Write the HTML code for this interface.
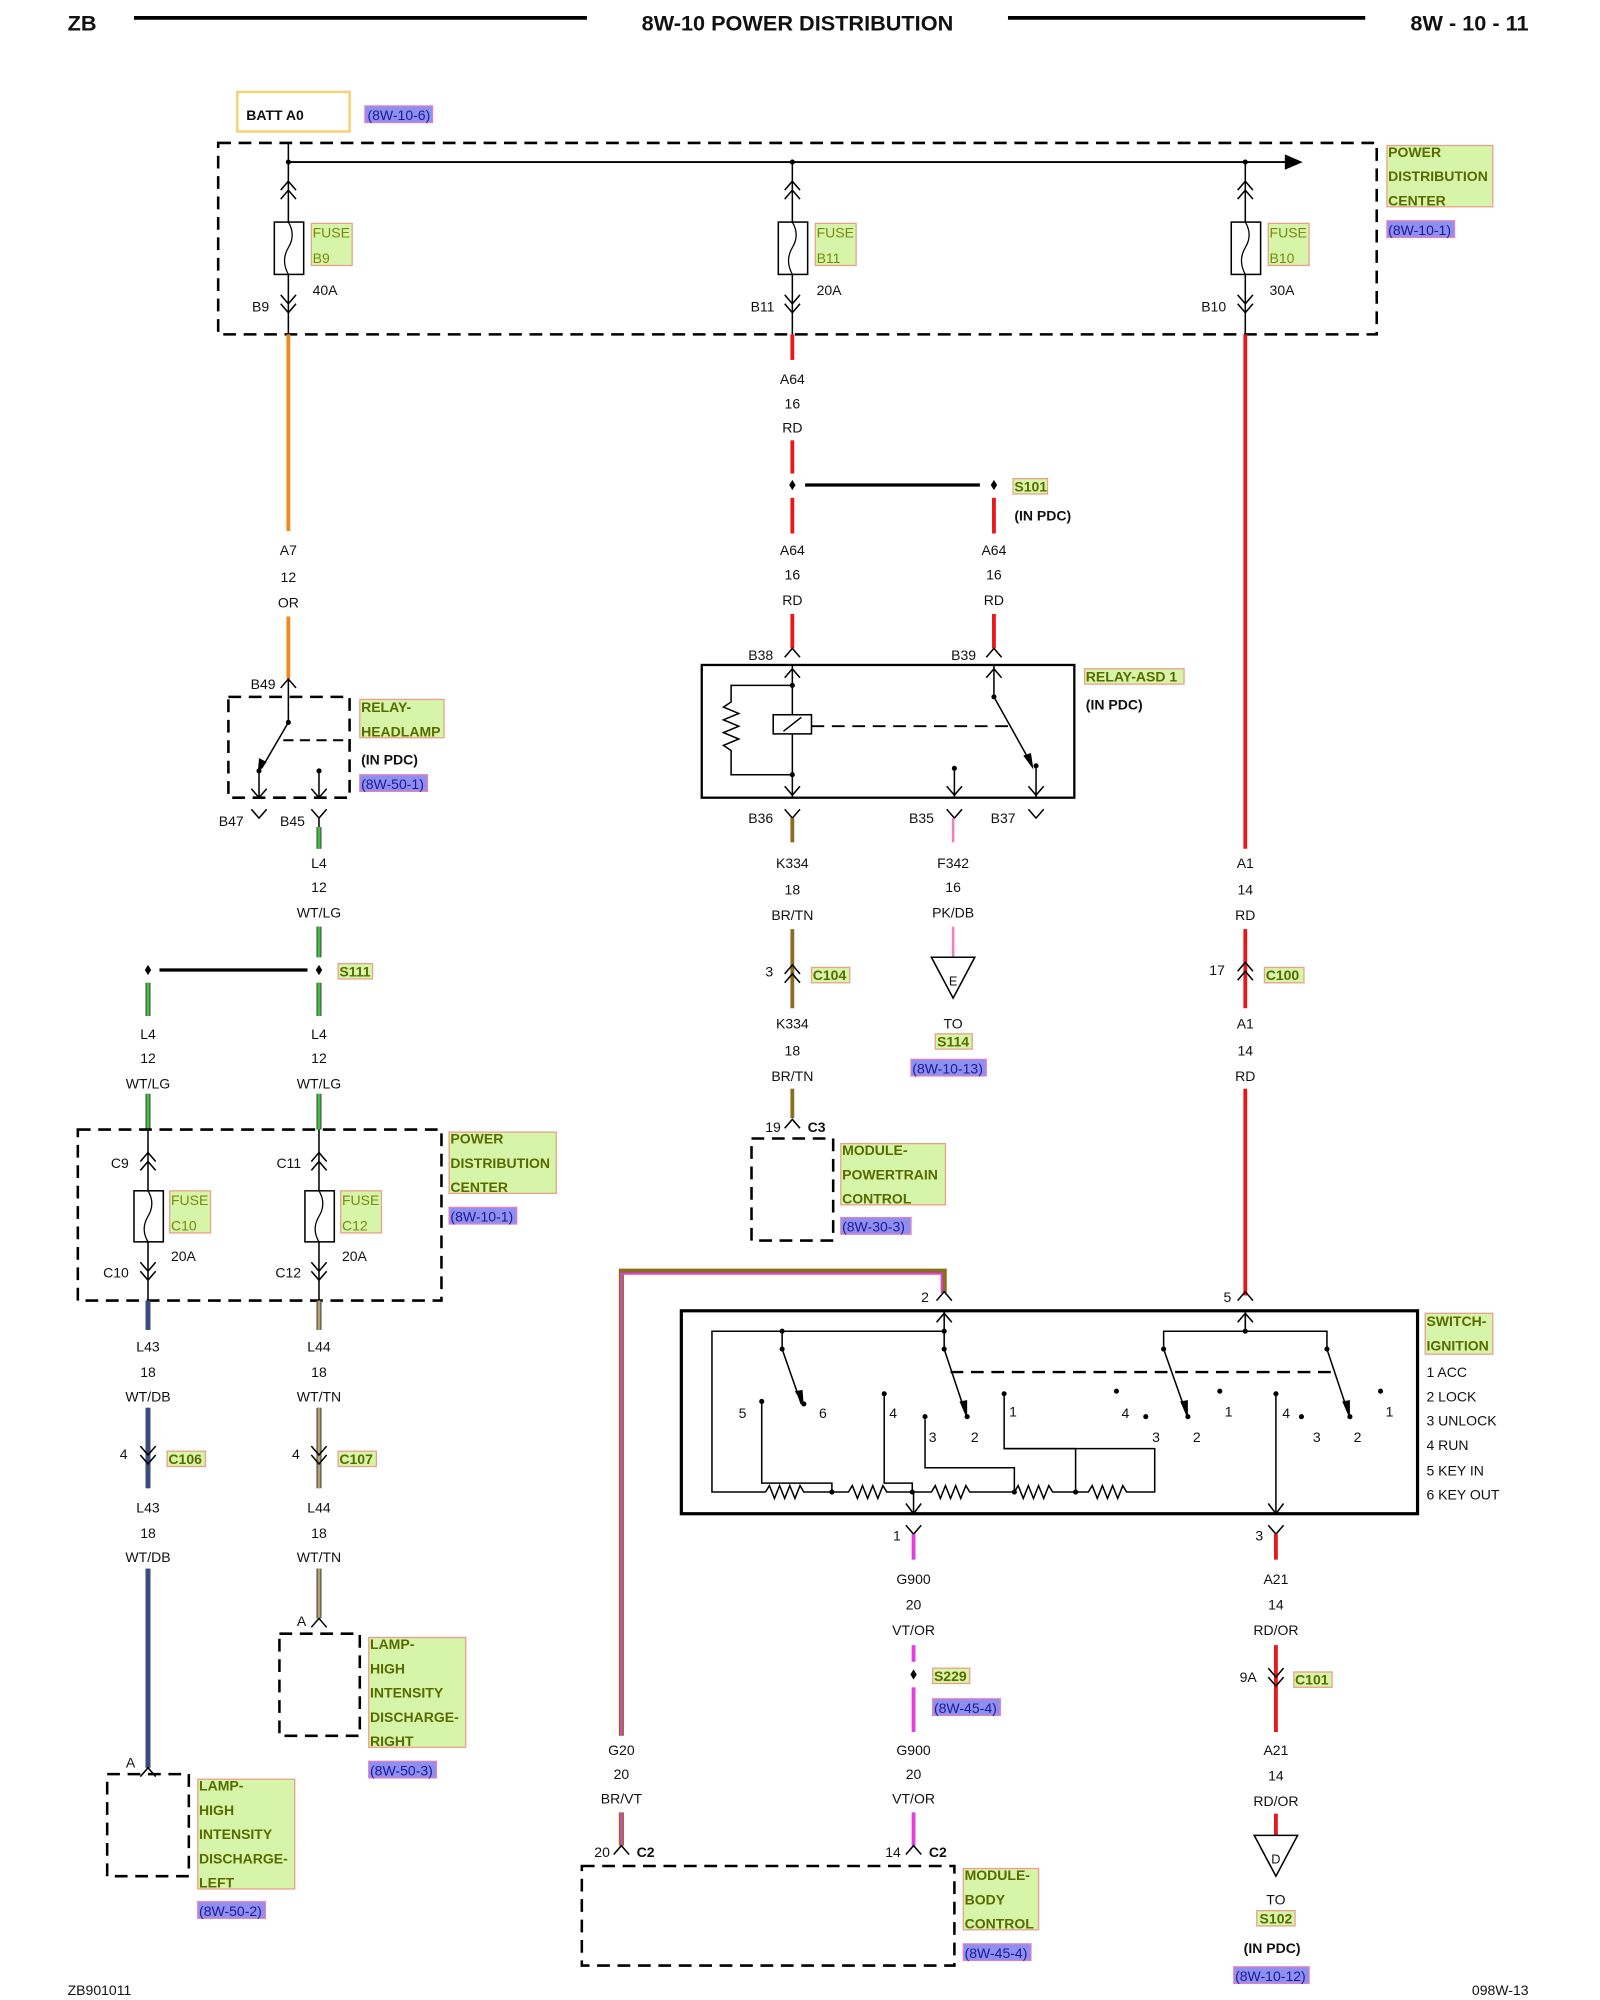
<!DOCTYPE html>
<html><head><meta charset="utf-8"><style>
html,body{margin:0;padding:0;background:#fff}
svg{display:block}
text{font-family:"Liberation Sans",Arial,sans-serif;font-size:11px;fill:#111}
.c{text-anchor:middle}
.r{text-anchor:end}
.b{font-weight:bold}
.g{fill:#d6f5a8;stroke:#e8a08a;stroke-width:1}
.gt{fill:#5a6a00;font-weight:bold}
.ft{fill:#7a8a10}
.rf{fill:#8f8ff0;stroke:#e080c0;stroke-width:1}
.rt{fill:#1a1a9a}
.ln{stroke:#000;stroke-width:1.2;fill:none}
.dsh{stroke:#000;stroke-width:2;fill:none;stroke-dasharray:10 6}
</style></head><body>
<svg width="1600" height="2000" viewBox="0 0 1254 1567" preserveAspectRatio="none" xmlns="http://www.w3.org/2000/svg">
<defs>
<path id="fu" d="M-6,7 L0,0 L6,7" fill="none" stroke="#000" stroke-width="1.2"/>
<path id="md" d="M-6,-7 L0,0 L6,-7" fill="none" stroke="#000" stroke-width="1.2"/>
<path id="dot" d="M0,-4 L2.5,0 L0,4 L-2.5,0Z" fill="#000"/>
</defs>

<!-- header -->
<text x="53" y="24" class="b" style="font-size:17px">ZB</text>
<line x1="105" y1="14" x2="460" y2="14" stroke="#000" stroke-width="3"/>
<text x="625" y="24" class="b c" style="font-size:17px">8W-10 POWER DISTRIBUTION</text>
<line x1="790" y1="14" x2="1070" y2="14" stroke="#000" stroke-width="3"/>
<text x="1198" y="24" class="b r" style="font-size:17px">8W - 10 - 11</text>

<!-- BATT -->
<rect x="186" y="72" width="88" height="31" fill="none" stroke="#f5d37a" stroke-width="2"/>
<text x="193" y="94" class="b">BATT A0</text>
<rect x="286" y="83" width="53" height="13" class="rf"/><text x="288" y="94" class="rt">(8W-10-6)</text>

<!-- PDC top -->
<rect x="171" y="112" width="908" height="150" class="dsh"/>
<line x1="226" y1="112" x2="226" y2="127" class="ln"/>
<line x1="226" y1="127" x2="1010" y2="127" stroke="#000" stroke-width="1.5"/>
<path d="M1007,121 L1021,127 L1007,133Z" fill="#000"/>
<rect x="1087" y="114" width="83" height="48" class="g"/>
<text x="1088" y="123" class="gt">POWER</text><text x="1088" y="142" class="gt">DISTRIBUTION</text><text x="1088" y="161" class="gt">CENTER</text>
<rect x="1087" y="173" width="53" height="13" class="rf"/><text x="1088" y="184" class="rt">(8W-10-1)</text>

<!-- fuse columns -->
<g id="fcol">
<circle cx="226" cy="127" r="2"/>
<line x1="226" y1="127" x2="226" y2="262" class="ln"/>
<use href="#fu" x="226" y="142"/><use href="#fu" x="226" y="149"/>
<rect x="215" y="174" width="23" height="41" fill="#fff" stroke="#000" stroke-width="1.2"/>
<path d="M226,174 q6,10 0,20 q-6,10 0,21" fill="none" stroke="#000"/>
<use href="#md" x="226" y="238"/><use href="#md" x="226" y="245"/>
</g>
<use href="#fcol" x="395"/><use href="#fcol" x="750"/>
<rect x="244" y="175" width="32" height="33" class="g"/><text x="245" y="186" class="ft">FUSE</text><text x="245" y="206" class="ft">B9</text>
<rect x="639" y="175" width="32" height="33" class="g"/><text x="640" y="186" class="ft">FUSE</text><text x="640" y="206" class="ft">B11</text>
<rect x="994" y="175" width="32" height="33" class="g"/><text x="995" y="186" class="ft">FUSE</text><text x="995" y="206" class="ft">B10</text>
<text x="245" y="231">40A</text><text x="640" y="231">20A</text><text x="995" y="231">30A</text>
<text x="211" y="244" class="r">B9</text><text x="607" y="244" class="r">B11</text><text x="961" y="244" class="r">B10</text>

<!-- A7 orange -->
<line x1="226" y1="262" x2="226" y2="416" stroke="#f08a1e" stroke-width="3"/>
<text x="226" y="435" class="c">A7</text><text x="226" y="456" class="c">12</text><text x="226" y="476" class="c">OR</text>
<line x1="226" y1="483" x2="226" y2="532" stroke="#f08a1e" stroke-width="3"/>

<!-- A64 red -->
<line x1="621" y1="262" x2="621" y2="282" stroke="#e81818" stroke-width="3"/>
<text x="621" y="301" class="c">A64</text><text x="621" y="320" class="c">16</text><text x="621" y="339" class="c">RD</text>
<line x1="621" y1="345" x2="621" y2="371" stroke="#e81818" stroke-width="3"/>
<use href="#dot" x="621" y="380"/>
<line x1="631" y1="380" x2="768" y2="380" stroke="#000" stroke-width="2.5"/>
<use href="#dot" x="779" y="380"/>
<rect x="794" y="375" width="27" height="12" class="g"/><text x="795" y="385" class="gt">S101</text>
<text x="795" y="408" class="b">(IN PDC)</text>
<line x1="621" y1="390" x2="621" y2="418" stroke="#e81818" stroke-width="3"/>
<line x1="779" y1="390" x2="779" y2="418" stroke="#e81818" stroke-width="3"/>
<text x="621" y="435" class="c">A64</text><text x="621" y="454" class="c">16</text><text x="621" y="474" class="c">RD</text>
<text x="779" y="435" class="c">A64</text><text x="779" y="454" class="c">16</text><text x="779" y="474" class="c">RD</text>
<line x1="621" y1="481" x2="621" y2="508" stroke="#e81818" stroke-width="3"/>
<line x1="779" y1="481" x2="779" y2="508" stroke="#e81818" stroke-width="3"/>

<!-- A1 red -->
<line x1="976" y1="262" x2="976" y2="665" stroke="#e81818" stroke-width="3"/>
<text x="976" y="680" class="c">A1</text><text x="976" y="701" class="c">14</text><text x="976" y="721" class="c">RD</text>
<line x1="976" y1="728" x2="976" y2="790" stroke="#e81818" stroke-width="3"/>
<use href="#fu" x="976" y="754"/><use href="#fu" x="976" y="761"/>
<text x="960" y="764" class="r">17</text>
<rect x="991" y="758" width="31" height="12" class="g"/><text x="992" y="768" class="gt">C100</text>
<text x="976" y="806" class="c">A1</text><text x="976" y="827" class="c">14</text><text x="976" y="847" class="c">RD</text>
<line x1="976" y1="853" x2="976" y2="1015" stroke="#e81818" stroke-width="3"/>

<!-- relay headlamp -->
<use href="#fu" x="226" y="532"/><text x="216" y="540" class="r">B49</text>
<rect x="179" y="546" width="95" height="79" class="dsh" stroke-width="1.6"/>
<line x1="226" y1="533" x2="226" y2="555" class="ln"/>
<circle cx="226" cy="566" r="2"/>
<line x1="226" y1="555" x2="226" y2="566" class="ln"/>
<line x1="226" y1="566" x2="205" y2="602" class="ln"/>
<path d="M202,606 L203,594 L209,597Z" fill="#000"/>
<line x1="222" y1="580" x2="274" y2="580" stroke="#000" stroke-width="1.5" stroke-dasharray="8 5"/>
<circle cx="203" cy="604" r="2"/><circle cx="250" cy="604" r="2"/>
<line x1="203" y1="604" x2="203" y2="625" class="ln"/><line x1="250" y1="604" x2="250" y2="625" class="ln"/>
<use href="#md" x="203" y="625"/><use href="#md" x="250" y="625"/>
<use href="#md" x="203" y="641"/><use href="#md" x="250" y="641"/>
<line x1="250" y1="641" x2="250" y2="648" class="ln"/>
<text x="191" y="647" class="r">B47</text><text x="239" y="647" class="r">B45</text>
<rect x="282" y="548" width="66" height="30" class="g"/><text x="283" y="558" class="gt">RELAY-</text><text x="283" y="577" class="gt">HEADLAMP</text>
<text x="283" y="599" class="b">(IN PDC)</text>
<rect x="282" y="607" width="53" height="13" class="rf"/><text x="283" y="618" class="rt">(8W-50-1)</text>

<!-- L4 wires -->
<g stroke-width="1">
<line x1="250" y1="648" x2="250" y2="665" stroke="#555" stroke-width="4"/><line x1="250" y1="648" x2="250" y2="665" stroke="#3c3" stroke-width="2"/>
<line x1="250" y1="726" x2="250" y2="750" stroke="#555" stroke-width="4"/><line x1="250" y1="726" x2="250" y2="750" stroke="#3c3" stroke-width="2"/>
<line x1="250" y1="770" x2="250" y2="796" stroke="#555" stroke-width="4"/><line x1="250" y1="770" x2="250" y2="796" stroke="#3c3" stroke-width="2"/>
<line x1="116" y1="770" x2="116" y2="796" stroke="#555" stroke-width="4"/><line x1="116" y1="770" x2="116" y2="796" stroke="#3c3" stroke-width="2"/>
<line x1="250" y1="857" x2="250" y2="885" stroke="#555" stroke-width="4"/><line x1="250" y1="857" x2="250" y2="885" stroke="#3c3" stroke-width="2"/>
<line x1="116" y1="857" x2="116" y2="885" stroke="#555" stroke-width="4"/><line x1="116" y1="857" x2="116" y2="885" stroke="#3c3" stroke-width="2"/>
</g>
<text x="250" y="680" class="c">L4</text><text x="250" y="699" class="c">12</text><text x="250" y="719" class="c">WT/LG</text>
<use href="#dot" x="250" y="760"/><use href="#dot" x="116" y="760"/>
<line x1="125" y1="760" x2="241" y2="760" stroke="#000" stroke-width="2.5"/>
<rect x="265" y="755" width="27" height="12" class="g"/><text x="266" y="765" class="gt">S111</text>
<text x="116" y="814" class="c">L4</text><text x="116" y="833" class="c">12</text><text x="116" y="853" class="c">WT/LG</text>
<text x="250" y="814" class="c">L4</text><text x="250" y="833" class="c">12</text><text x="250" y="853" class="c">WT/LG</text>

<!-- lower PDC -->
<rect x="61" y="885" width="285" height="134" class="dsh" stroke-width="2.2"/>
<g id="lf">
<line x1="116" y1="885" x2="116" y2="1019" class="ln"/>
<use href="#fu" x="116" y="903"/><use href="#fu" x="116" y="910"/>
<rect x="105" y="933" width="23" height="40" fill="#fff" stroke="#000" stroke-width="1.2"/>
<path d="M116,933 q6,10 0,20 q-6,10 0,20" fill="none" stroke="#000"/>
<use href="#md" x="116" y="996"/><use href="#md" x="116" y="1003"/>
</g>
<use href="#lf" x="134"/>
<text x="101" y="915" class="r">C9</text><text x="236" y="915" class="r">C11</text>
<text x="101" y="1001" class="r">C10</text><text x="236" y="1001" class="r">C12</text>
<text x="134" y="988">20A</text><text x="268" y="988">20A</text>
<rect x="133" y="933" width="32" height="33" class="g"/><text x="134" y="944" class="ft">FUSE</text><text x="134" y="964" class="ft">C10</text>
<rect x="267" y="933" width="32" height="33" class="g"/><text x="268" y="944" class="ft">FUSE</text><text x="268" y="964" class="ft">C12</text>
<rect x="352" y="887" width="84" height="48" class="g"/>
<text x="353" y="896" class="gt">POWER</text><text x="353" y="915" class="gt">DISTRIBUTION</text><text x="353" y="934" class="gt">CENTER</text>
<rect x="352" y="946" width="53" height="13" class="rf"/><text x="353" y="957" class="rt">(8W-10-1)</text>

<!-- L43 / L44 -->
<g>
<line x1="116" y1="1019" x2="116" y2="1042" stroke="#555" stroke-width="4"/><line x1="116" y1="1019" x2="116" y2="1042" stroke="#2a4aa0" stroke-width="2"/>
<line x1="250" y1="1019" x2="250" y2="1042" stroke="#555" stroke-width="4"/><line x1="250" y1="1019" x2="250" y2="1042" stroke="#b8a070" stroke-width="2"/>
<line x1="116" y1="1103" x2="116" y2="1166" stroke="#555" stroke-width="4"/><line x1="116" y1="1103" x2="116" y2="1166" stroke="#2a4aa0" stroke-width="2"/>
<line x1="250" y1="1103" x2="250" y2="1166" stroke="#555" stroke-width="4"/><line x1="250" y1="1103" x2="250" y2="1166" stroke="#b8a070" stroke-width="2"/>
<line x1="116" y1="1229" x2="116" y2="1385" stroke="#555" stroke-width="4"/><line x1="116" y1="1229" x2="116" y2="1385" stroke="#2a4aa0" stroke-width="2"/>
<line x1="250" y1="1229" x2="250" y2="1268" stroke="#555" stroke-width="4"/><line x1="250" y1="1229" x2="250" y2="1268" stroke="#b8a070" stroke-width="2"/>
</g>
<text x="116" y="1059" class="c">L43</text><text x="116" y="1079" class="c">18</text><text x="116" y="1098" class="c">WT/DB</text>
<text x="250" y="1059" class="c">L44</text><text x="250" y="1079" class="c">18</text><text x="250" y="1098" class="c">WT/TN</text>
<use href="#md" x="116" y="1140"/><use href="#md" x="116" y="1147"/>
<use href="#md" x="250" y="1140"/><use href="#md" x="250" y="1147"/>
<text x="100" y="1143" class="r">4</text><text x="235" y="1143" class="r">4</text>
<rect x="131" y="1137" width="30" height="12" class="g"/><text x="132" y="1147" class="gt">C106</text>
<rect x="265" y="1137" width="30" height="12" class="g"/><text x="266" y="1147" class="gt">C107</text>
<text x="116" y="1185" class="c">L43</text><text x="116" y="1205" class="c">18</text><text x="116" y="1224" class="c">WT/DB</text>
<text x="250" y="1185" class="c">L44</text><text x="250" y="1205" class="c">18</text><text x="250" y="1224" class="c">WT/TN</text>

<!-- lamps -->
<use href="#fu" x="250" y="1268"/><text x="240" y="1274" class="r">A</text>
<rect x="219" y="1280" width="63" height="80" class="dsh" stroke-width="2.2"/>
<rect x="289" y="1283" width="76" height="86" class="g"/>
<text x="290" y="1292" class="gt">LAMP-</text><text x="290" y="1311" class="gt">HIGH</text><text x="290" y="1330" class="gt">INTENSITY</text><text x="290" y="1349" class="gt">DISCHARGE-</text><text x="290" y="1368" class="gt">RIGHT</text>
<rect x="289" y="1380" width="53" height="13" class="rf"/><text x="290" y="1391" class="rt">(8W-50-3)</text>
<use href="#fu" x="116" y="1385"/><text x="106" y="1385" class="r">A</text>
<rect x="84" y="1390" width="64" height="80" class="dsh" stroke-width="2.2"/>
<rect x="155" y="1394" width="76" height="86" class="g"/>
<text x="156" y="1403" class="gt">LAMP-</text><text x="156" y="1422" class="gt">HIGH</text><text x="156" y="1441" class="gt">INTENSITY</text><text x="156" y="1460" class="gt">DISCHARGE-</text><text x="156" y="1479" class="gt">LEFT</text>
<rect x="155" y="1490" width="53" height="13" class="rf"/><text x="156" y="1501" class="rt">(8W-50-2)</text>

<!-- Relay ASD -->
<use href="#fu" x="621" y="508"/><use href="#fu" x="779" y="508"/>
<text x="606" y="517" class="r">B38</text><text x="765" y="517" class="r">B39</text>
<rect x="550" y="521" width="292" height="104" fill="none" stroke="#000" stroke-width="1.8"/>
<line x1="621" y1="521" x2="621" y2="625" class="ln"/><use href="#fu" x="621" y="524"/>
<circle cx="621" cy="537" r="2"/><circle cx="621" cy="607" r="2"/>
<path d="M621,537 H573 V550 l-6,4 l12,5 l-12,5 l12,5 l-12,5 l12,5 l-12,5 l6,4 V607 H621" fill="none" stroke="#000" stroke-width="1.2"/>
<rect x="606" y="560" width="30" height="15" fill="#fff" stroke="#000" stroke-width="1.2"/>
<line x1="614" y1="573" x2="628" y2="562" class="ln"/>
<line x1="636" y1="569" x2="790" y2="569" stroke="#000" stroke-width="1.5" stroke-dasharray="10 6"/>
<line x1="779" y1="521" x2="779" y2="546" class="ln"/><use href="#fu" x="779" y="524"/>
<circle cx="779" cy="546" r="2"/>
<line x1="779" y1="546" x2="808" y2="598" class="ln"/>
<path d="M810,603 L802,592 L808,590Z" fill="#000"/>
<circle cx="812" cy="600" r="2"/><line x1="812" y1="600" x2="812" y2="625" class="ln"/>
<circle cx="748" cy="602" r="2"/><line x1="748" y1="602" x2="748" y2="625" class="ln"/>
<use href="#md" x="621" y="623"/><use href="#md" x="748" y="623"/><use href="#md" x="812" y="623"/>
<use href="#md" x="621" y="641"/><use href="#md" x="748" y="641"/><use href="#md" x="812" y="641"/>
<text x="606" y="645" class="r">B36</text><text x="732" y="645" class="r">B35</text><text x="796" y="645" class="r">B37</text>
<rect x="850" y="524" width="78" height="12" class="g"/><text x="851" y="534" class="gt">RELAY-ASD 1</text>
<text x="851" y="556" class="b">(IN PDC)</text>

<!-- K334 -->
<line x1="621" y1="641" x2="621" y2="660" stroke="#8b6d1e" stroke-width="3"/>
<text x="621" y="680" class="c">K334</text><text x="621" y="701" class="c">18</text><text x="621" y="721" class="c">BR/TN</text>
<line x1="621" y1="728" x2="621" y2="790" stroke="#8b6d1e" stroke-width="3"/>
<use href="#fu" x="621" y="756"/><use href="#fu" x="621" y="763"/>
<text x="606" y="765" class="r">3</text>
<rect x="636" y="758" width="30" height="12" class="g"/><text x="637" y="768" class="gt">C104</text>
<text x="621" y="806" class="c">K334</text><text x="621" y="827" class="c">18</text><text x="621" y="847" class="c">BR/TN</text>
<line x1="621" y1="853" x2="621" y2="876" stroke="#8b6d1e" stroke-width="3"/>
<use href="#fu" x="621" y="877"/><text x="612" y="887" class="r">19</text><text x="633" y="887" class="b">C3</text>
<rect x="589" y="892" width="64" height="80" class="dsh" stroke-width="2.2"/>
<rect x="659" y="896" width="82" height="48" class="g"/>
<text x="660" y="905" class="gt">MODULE-</text><text x="660" y="924" class="gt">POWERTRAIN</text><text x="660" y="943" class="gt">CONTROL</text>
<rect x="659" y="954" width="55" height="13" class="rf"/><text x="660" y="965" class="rt">(8W-30-3)</text>

<!-- F342 -->
<line x1="747" y1="641" x2="747" y2="660" stroke="#f080c0" stroke-width="2"/>
<text x="747" y="680" class="c">F342</text><text x="747" y="699" class="c">16</text><text x="747" y="719" class="c">PK/DB</text>
<line x1="747" y1="726" x2="747" y2="750" stroke="#f080c0" stroke-width="2"/>
<path d="M730,750 H764 L747,782Z" fill="#fff" stroke="#000" stroke-width="1.2"/>
<text x="747" y="772" class="c" style="font-size:10px">E</text>
<text x="747" y="806" class="c">TO</text>
<rect x="733" y="810" width="29" height="12" class="g"/><text x="747" y="820" class="gt c">S114</text>
<rect x="714" y="830" width="59" height="13" class="rf"/><text x="715" y="841" class="rt">(8W-10-13)</text>

<!-- G20 brown/violet wire -->
<path d="M487,1360 V996 H740 V1013" fill="none" stroke="#8b6d1e" stroke-width="4"/>
<path d="M487,1360 V998 H738 V1013" fill="none" stroke="#e040e0" stroke-width="1.6"/>

<!-- switch ignition -->
<use href="#fu" x="740" y="1012"/><text x="728" y="1020" class="r">2</text>
<use href="#fu" x="976" y="1012"/><text x="965" y="1020" class="r">5</text>
<rect x="534" y="1027" width="577" height="159" fill="none" stroke="#000" stroke-width="2.5"/>
<g stroke="#000" stroke-width="1.2" fill="none">
<line x1="740" y1="1027" x2="740" y2="1043"/><use href="#fu" x="740" y="1029"/>
<line x1="976" y1="1027" x2="976" y2="1043"/><use href="#fu" x="976" y="1029"/>
<path d="M740,1043 H558 V1169 H600"/>
<path d="M912,1057 V1043 H1040 V1057"/>
<path d="M613,1043 V1057 M740,1043 V1057"/>
<line x1="613" y1="1057" x2="628" y2="1100"/>
<line x1="740" y1="1057" x2="757" y2="1108"/>
<line x1="912" y1="1057" x2="930" y2="1108"/>
<line x1="1040" y1="1057" x2="1057" y2="1108"/>
<line x1="745" y1="1075" x2="1048" y2="1075" stroke-width="1.8" stroke-dasharray="10 6"/>
<path d="M597,1098 V1162 H652 V1169"/>
<path d="M693,1092 V1162 H715 V1169"/>
<path d="M725,1112 V1150 H795 V1169"/>
<path d="M787,1092 V1135 H843 V1169"/>
<path d="M600,1169 l3,-5 l4,10 l4,-10 l4,10 l4,-10 l4,10 l4,-10 l3,5 H665 l3,-5 l4,10 l4,-10 l4,10 l4,-10 l4,10 l4,-10 l3,5 H730 l3,-5 l4,10 l4,-10 l4,10 l4,-10 l4,10 l4,-10 l3,5 H795 l3,-5 l4,10 l4,-10 l4,10 l4,-10 l4,10 l4,-10 l3,5 H853 l3,-5 l4,10 l4,-10 l4,10 l4,-10 l4,10 l4,-10 l3,5 H905 V1135 H787"/>
<line x1="716" y1="1169" x2="716" y2="1186"/><path d="M710,1178 L716,1186 L722,1178"/>
<line x1="1000" y1="1092" x2="1000" y2="1186"/><path d="M994,1178 L1000,1186 L1006,1178"/>
<line x1="976" y1="1027" x2="976" y2="1043"/>
</g>
<g fill="#000">
<circle cx="740" cy="1043" r="2"/><circle cx="613" cy="1043" r="2"/><circle cx="976" cy="1043" r="2"/>
<circle cx="613" cy="1057" r="2"/><circle cx="740" cy="1057" r="2"/><circle cx="912" cy="1057" r="2"/><circle cx="1040" cy="1057" r="2"/>
<circle cx="630" cy="1100" r="2"/><circle cx="758" cy="1110" r="2"/><circle cx="931" cy="1110" r="2"/><circle cx="1058" cy="1110" r="2"/>
<circle cx="597" cy="1098" r="2"/><circle cx="693" cy="1092" r="2"/><circle cx="725" cy="1110" r="2"/><circle cx="787" cy="1092" r="2"/>
<circle cx="875" cy="1090" r="2"/><circle cx="898" cy="1110" r="2"/><circle cx="956" cy="1090" r="2"/>
<circle cx="1000" cy="1092" r="2"/><circle cx="1020" cy="1110" r="2"/><circle cx="1082" cy="1090" r="2"/>
<circle cx="652" cy="1169" r="2"/><circle cx="715" cy="1169" r="2"/><circle cx="795" cy="1169" r="2"/><circle cx="843" cy="1169" r="2"/>
<path d="M630,1102 L623,1090 L629,1089Z"/><path d="M758,1112 L752,1098 L758,1097Z"/><path d="M931,1112 L925,1098 L931,1097Z"/><path d="M1058,1112 L1052,1098 L1058,1097Z"/>
</g>
<text x="582" y="1111" class="c">5</text><text x="645" y="1111" class="c">6</text><text x="700" y="1111" class="c">4</text>
<text x="731" y="1130" class="c">3</text><text x="764" y="1130" class="c">2</text><text x="794" y="1110" class="c">1</text>
<text x="882" y="1111" class="c">4</text><text x="906" y="1130" class="c">3</text><text x="938" y="1130" class="c">2</text><text x="963" y="1110" class="c">1</text>
<text x="1008" y="1111" class="c">4</text><text x="1032" y="1130" class="c">3</text><text x="1064" y="1130" class="c">2</text><text x="1089" y="1110" class="c">1</text>
<rect x="1117" y="1029" width="53" height="32" class="g"/><text x="1118" y="1039" class="gt">SWITCH-</text><text x="1118" y="1058" class="gt">IGNITION</text>
<text x="1118" y="1079">1 ACC</text><text x="1118" y="1098">2 LOCK</text><text x="1118" y="1117">3 UNLOCK</text>
<text x="1118" y="1136">4 RUN</text><text x="1118" y="1156">5 KEY IN</text><text x="1118" y="1175">6 KEY OUT</text>

<!-- pin 1 G900 -->
<use href="#md" x="716" y="1202"/><line x1="716" y1="1202" x2="716" y2="1222" stroke="#e040e0" stroke-width="3"/>
<text x="706" y="1207" class="r">1</text>
<text x="716" y="1241" class="c">G900</text><text x="716" y="1261" class="c">20</text><text x="716" y="1281" class="c">VT/OR</text>
<line x1="716" y1="1289" x2="716" y2="1302" stroke="#e040e0" stroke-width="3"/>
<use href="#dot" x="716" y="1312"/>
<rect x="731" y="1307" width="29" height="12" class="g"/><text x="732" y="1317" class="gt">S229</text>
<rect x="731" y="1331" width="53" height="13" class="rf"/><text x="732" y="1342" class="rt">(8W-45-4)</text>
<line x1="716" y1="1322" x2="716" y2="1357" stroke="#e040e0" stroke-width="3"/>
<text x="716" y="1375" class="c">G900</text><text x="716" y="1394" class="c">20</text><text x="716" y="1413" class="c">VT/OR</text>
<line x1="716" y1="1420" x2="716" y2="1446" stroke="#e040e0" stroke-width="3"/>
<use href="#fu" x="716" y="1446"/><text x="706" y="1455" class="r">14</text><text x="728" y="1455" class="b">C2</text>

<text x="487" y="1375" class="c">G20</text><text x="487" y="1394" class="c">20</text><text x="487" y="1413" class="c">BR/VT</text>
<line x1="487" y1="1420" x2="487" y2="1446" stroke="#8b6d1e" stroke-width="4"/><line x1="487" y1="1420" x2="487" y2="1446" stroke="#e040e0" stroke-width="1.6"/>
<use href="#fu" x="487" y="1446"/><text x="478" y="1455" class="r">20</text><text x="499" y="1455" class="b">C2</text>
<rect x="456" y="1462" width="292" height="78" class="dsh" stroke-width="2.2"/>
<rect x="755" y="1464" width="59" height="48" class="g"/>
<text x="756" y="1473" class="gt">MODULE-</text><text x="756" y="1492" class="gt">BODY</text><text x="756" y="1511" class="gt">CONTROL</text>
<rect x="755" y="1523" width="53" height="13" class="rf"/><text x="756" y="1534" class="rt">(8W-45-4)</text>

<!-- pin 3 A21 -->
<use href="#md" x="1000" y="1202"/><line x1="1000" y1="1202" x2="1000" y2="1222" stroke="#e81818" stroke-width="3"/>
<text x="990" y="1207" class="r">3</text>
<text x="1000" y="1241" class="c">A21</text><text x="1000" y="1261" class="c">14</text><text x="1000" y="1281" class="c">RD/OR</text>
<line x1="1000" y1="1289" x2="1000" y2="1357" stroke="#e81818" stroke-width="3"/>
<use href="#md" x="1000" y="1314"/><use href="#md" x="1000" y="1321"/>
<text x="985" y="1318" class="r">9A</text>
<rect x="1014" y="1310" width="30" height="12" class="g"/><text x="1015" y="1320" class="gt">C101</text>
<text x="1000" y="1375" class="c">A21</text><text x="1000" y="1395" class="c">14</text><text x="1000" y="1415" class="c">RD/OR</text>
<line x1="1000" y1="1421" x2="1000" y2="1438" stroke="#e81818" stroke-width="3"/>
<path d="M983,1438 H1017 L1000,1470Z" fill="#fff" stroke="#000" stroke-width="1.2"/>
<text x="1000" y="1460" class="c" style="font-size:10px">D</text>
<text x="1000" y="1492" class="c">TO</text>
<rect x="985" y="1497" width="30" height="12" class="g"/><text x="1000" y="1507" class="gt c">S102</text>
<text x="997" y="1530" class="b c">(IN PDC)</text>
<rect x="967" y="1541" width="59" height="13" class="rf"/><text x="968" y="1552" class="rt">(8W-10-12)</text>

<!-- footer -->
<text x="53" y="1563">ZB901011</text>
<text x="1198" y="1563" class="r">098W-13</text>
</svg>
</body></html>
